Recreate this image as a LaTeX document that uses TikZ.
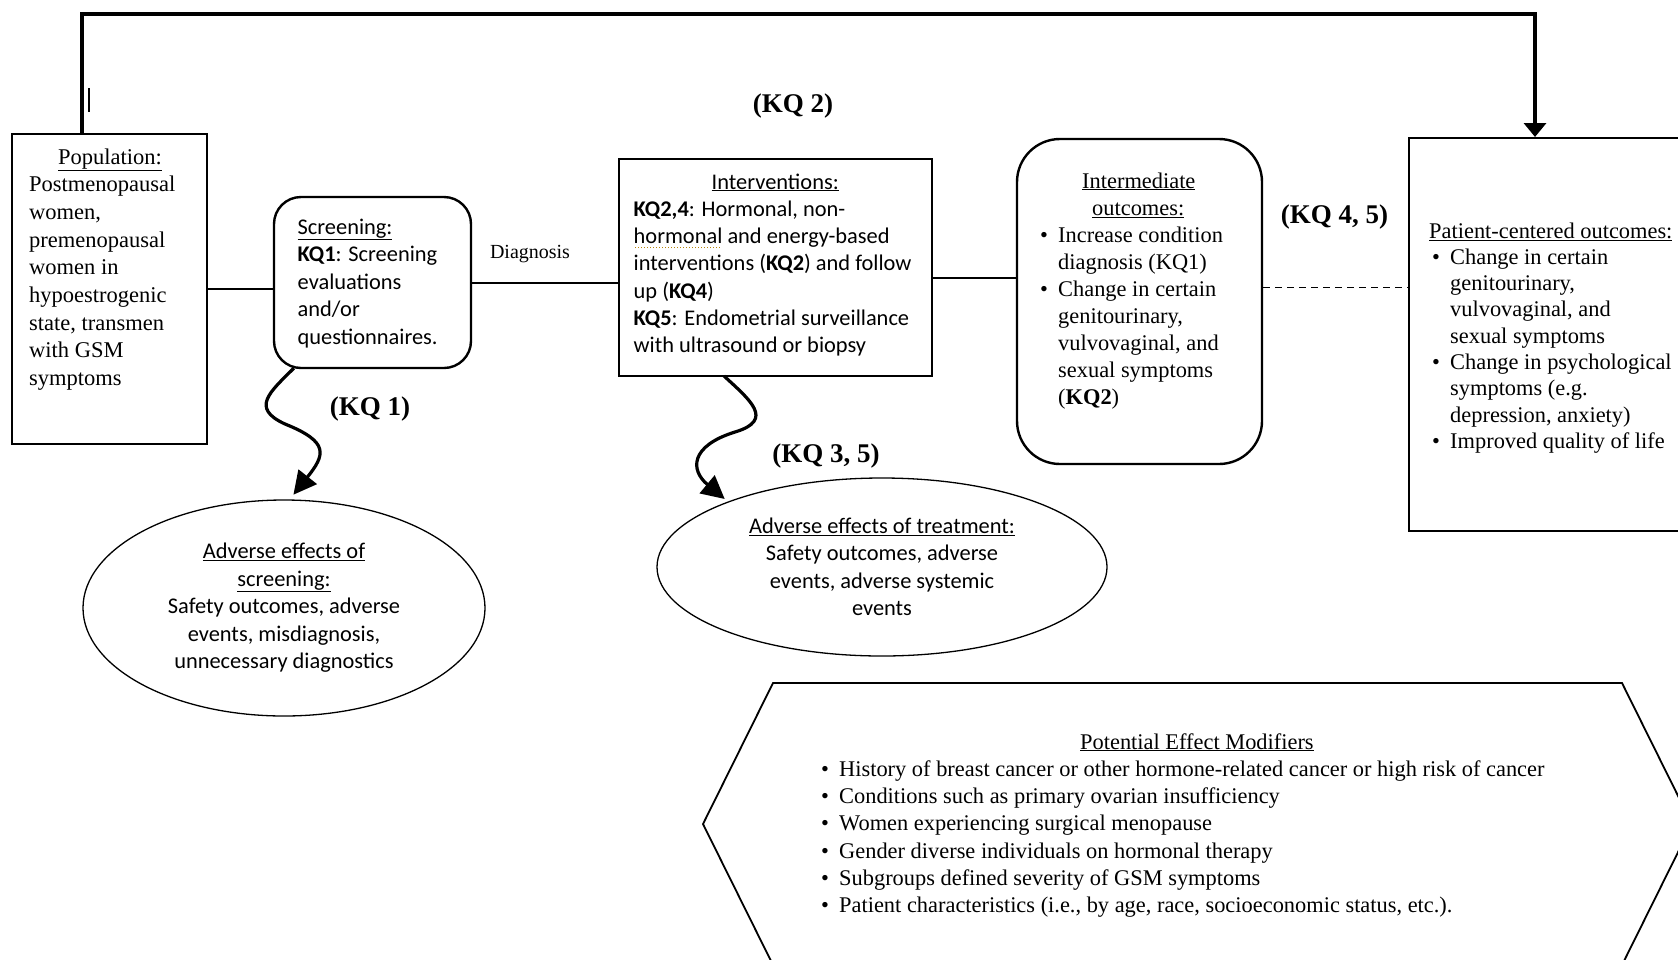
\documentclass[tikz,border=0pt]{standalone}
\usepackage{fontspec}
\setmainfont{Liberation Serif}
\newfontfamily\calib{Carlito}
\usetikzlibrary{arrows.meta,shapes.geometric,calc}
\definecolor{spell}{HTML}{B8860B}
\newcommand\bul{\makebox[18pt][l]{\textbullet}}
\newcommand\ind{\hspace*{18pt}}
\newsavebox\dotbox
\newcommand\dotul[1]{\sbox\dotbox{#1}\rlap{\raisebox{-4.5pt}{\color{spell}\hbox to \wd\dotbox{\leaders\hbox to 3pt{\hss\rule{1.4pt}{1.4pt}\hss}\hfill}}}\usebox\dotbox}
\begin{document}
\begin{tikzpicture}[x=1pt,y=-1pt,
  box/.style={draw, line width=2pt, inner sep=0pt},
  rbox/.style={draw, line width=2.4pt, inner sep=0pt},
  ell/.style={draw, ellipse, line width=1.3pt, inner sep=0pt, align=center, font=\calib\fontsize{22.4}{27.5}\selectfont},
  serif/.style={inner sep=0pt, align=left, anchor=base west},
  sans/.style={inner sep=0pt, align=left, anchor=base west, font=\calib\fontsize{22.4}{27.4}\selectfont},
  kq/.style={font=\bfseries\fontsize{27}{30}\selectfont, inner sep=0pt},
  conn/.style={line width=2pt},
  wavy/.style={line width=3.2pt, -{Triangle[length=23pt,width=23pt]}},
]
\useasboundingbox (0,0) rectangle (1678,959);
\clip (0,0) rectangle (1678,959);

% boxes
\node[box, minimum width=195pt, minimum height=310pt] (pop) at (109.5,289) {};
\node[rbox, rounded corners=27pt, minimum width=197pt, minimum height=171pt] (scr) at (372.5,282.5) {};
\node[box, minimum width=313pt, minimum height=217pt] (int) at (775.5,267.5) {};
\node[rbox, rounded corners=43pt, minimum width=245pt, minimum height=325pt] (mid) at (1139.5,301.5) {};
\node[box, minimum width=300pt, minimum height=393pt, anchor=north west] (pat) at (1408,137) {};

% ellipses
\node[ell, minimum width=402pt, minimum height=216pt] (ae1) at (284,608)
  {\underline{Adverse effects of}\\\underline{screening:}\\Safety outcomes, adverse\\events, misdiagnosis,\\unnecessary diagnostics};
\node[ell, minimum width=450pt, minimum height=178pt] (ae2) at (882,567)
  {\underline{Adverse effects of treatment:}\\Safety outcomes, adverse\\events, adverse systemic\\events};

% hexagon
\draw[line width=1.8pt] (773,683) -- (1622,683) -- (1692,824) -- (1622,965) -- (773,965) -- (703,824) -- cycle;

% texts (anchor = baseline of the last line)
\node[serif, font=\fontsize{22.5}{27.7}\selectfont] (popt) at (29,385.6)
  {\hspace*{29pt}\underline{Population:}\\Postmenopausal\\women,\\premenopausal\\women in\\hypoestrogenic\\state, transmen\\with GSM\\symptoms};
\node[sans, font=\calib\fontsize{22.4}{27.5}\selectfont] (scrt) at (297.5,344)
  {\underline{Screening:}\\\textbf{KQ1}: Screening\\evaluations\\and/or\\questionnaires.};
\node[sans, font=\calib\fontsize{22.4}{27.3}\selectfont] (intt) at (633.5,352.8)
  {\hspace*{78pt}\underline{Interventions:}\\\textbf{KQ2,4}: Hormonal, non-\\\dotul{hormonal} and energy-based\\interventions (\textbf{KQ2}) and follow\\up (\textbf{KQ4})\\\textbf{KQ5}: Endometrial surveillance\\with ultrasound or biopsy};
\node[serif, font=\fontsize{22.4}{27}\selectfont] (midt) at (1040,404)
  {\hspace*{42pt}\underline{Intermediate}\\\hspace*{52pt}\underline{outcomes:}\\\bul Increase condition\\\ind diagnosis (KQ1)\\\bul Change in certain\\\ind genitourinary,\\\ind vulvovaginal, and\\\ind sexual symptoms\\\ind (\textbf{KQ2})};
\node[serif, font=\fontsize{22.4}{26.3}\selectfont] (patt) at (1429,448.4)
  {\underline{Patient-centered outcomes:}\\\hspace*{3pt}\bul Change in certain\\\hspace*{21pt}genitourinary,\\\hspace*{21pt}vulvovaginal, and\\\hspace*{21pt}sexual symptoms\\\hspace*{3pt}\bul Change in psychological\\\hspace*{21pt}symptoms (e.g.\\\hspace*{21pt}depression, anxiety)\\\hspace*{3pt}\bul Improved quality of life};
\node[serif, font=\fontsize{22.4}{27.3}\selectfont] (hext) at (821,912.8)
  {\hspace*{259pt}\underline{Potential Effect Modifiers}\\\bul History of breast cancer or other hormone-related cancer or high risk of cancer\\\bul Conditions such as primary ovarian insufficiency\\\bul Women experiencing surgical menopause\\\bul Gender diverse individuals on hormonal therapy\\\bul Subgroups defined severity of GSM symptoms\\\bul Patient characteristics (i.e., by age, race, socioeconomic status, etc.).};

% labels
\node[kq] (kq2) at (793,106) {(KQ 2)};
\node[kq] (kq45) at (1334.5,217) {(KQ 4, 5)};
\node[kq] (kq1) at (370,409) {(KQ 1)};
\node[kq] (kq35) at (826,456) {(KQ 3, 5)};
\node[inner sep=0pt, font=\fontsize{20}{24}\selectfont] (diag) at (530,254) {Diagnosis};

% connectors
\coordinate (tl) at (82,14);
\coordinate (tr) at (1535,14);
\draw[line width=3.5pt, line join=miter, -{Triangle[length=14pt,width=22pt]}] (pop.north -| tl) -- (tl) -- (tr) -- (tr |- pat.north);
\draw[line width=1.3pt] (89,88) -- (89,112);
\draw[conn] (pop.east) -- (pop.east -| scr.west);
\draw[conn] (scr.east) -- (scr.east -| int.west);
\draw[conn] ([yshift=-10pt]int.east) -- ([yshift=-10pt]int.east -| mid.west);
\draw[line width=1.2pt, dash pattern=on 7pt off 5pt] ([yshift=14pt]mid.east) -- ([yshift=14pt]mid.east -| pat.west);
\draw[wavy, shorten >=6pt] ($(scr.south west)+(21,-1)$) .. controls (270,392) and (250,408) .. (285,424) .. controls (330,442) and (325,455) .. (ae1.87);
\draw[wavy, shorten >=4pt] ($(int.south west)+(106,-1)$) .. controls (750,400) and (775,420) .. (735,432) .. controls (690,446) and (690,470) .. (ae2.157);
\end{tikzpicture}
\end{document}
